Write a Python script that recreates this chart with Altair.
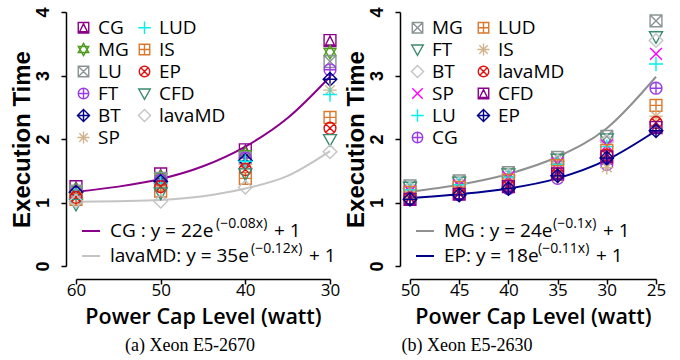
import altair as alt
import pandas as pd

# ---------------- data: left panel (Xeon E5-2670) ----------------
left_caps = [60, 50, 40, 30]
left_names = ["CG", "MG", "LU", "FT", "BT", "SP", "LUD", "IS", "EP", "CFD", "lavaMD"]
left_CG = [1.25, 1.45, 1.83, 3.55]
left_MG = [1.20, 1.40, 1.76, 3.37]
left_LU = [1.18, 1.38, 1.70, 3.22]
left_FT = [1.15, 1.35, 1.70, 3.09]
left_BT = [1.16, 1.33, 1.66, 2.94]
left_SP = [1.10, 1.25, 1.60, 2.77]
left_LUD = [1.12, 1.30, 1.65, 2.70]
left_IS = [1.05, 1.18, 1.38, 2.34]
left_EP = [1.08, 1.25, 1.52, 2.17]
left_CFD = [0.97, 1.15, 1.45, 1.99]
left_lavaMD = [1.02, 1.02, 1.24, 1.80]
left_series = [left_CG, left_MG, left_LU, left_FT, left_BT, left_SP,
               left_LUD, left_IS, left_EP, left_CFD, left_lavaMD]

left_fit_caps = [60, 55, 50, 45, 40, 35, 30]
left_fit_CG = [1.17, 1.25, 1.37, 1.57, 1.88, 2.33, 2.98]
left_fit_lavaMD = [1.01, 1.02, 1.04, 1.10, 1.22, 1.42, 1.81]

# ---------------- data: right panel (Xeon E5-2630) ----------------
right_caps = [50, 45, 40, 35, 30, 25]
right_names = ["MG", "FT", "BT", "SP", "LU", "CG", "LUD", "IS", "lavaMD", "CFD", "EP"]
right_MG = [1.26, 1.34, 1.47, 1.71, 2.04, 3.86]
right_FT = [1.24, 1.32, 1.45, 1.68, 2.00, 3.61]
right_BT = [1.22, 1.30, 1.43, 1.65, 1.97, 3.55]
right_SP = [1.18, 1.27, 1.40, 1.62, 1.90, 3.34]
right_LU = [1.20, 1.28, 1.40, 1.60, 1.88, 3.18]
right_CG = [1.05, 1.12, 1.22, 1.38, 1.60, 2.80]
right_LUD = [1.16, 1.24, 1.35, 1.58, 1.82, 2.53]
right_IS = [1.10, 1.16, 1.25, 1.40, 1.55, 2.36]
right_lavaMD = [1.07, 1.14, 1.26, 1.45, 1.75, 2.26]
right_CFD = [1.05, 1.13, 1.25, 1.45, 1.72, 2.18]
right_EP = [1.05, 1.12, 1.22, 1.42, 1.70, 2.13]
right_series = [right_MG, right_FT, right_BT, right_SP, right_LU, right_CG,
                right_LUD, right_IS, right_lavaMD, right_CFD, right_EP]

right_fit_caps = [50, 45, 40, 35, 30, 25]
right_fit_MG = [1.17, 1.28, 1.45, 1.72, 2.17, 2.98]
right_fit_EP = [1.07, 1.13, 1.22, 1.38, 1.67, 2.13]

y_ticks = [0, 1, 2, 3, 4]

# ---------------- styles ----------------
SQ = "M-1,-1H1V1H-1Z"
CIRC = "M-1,0A1,1 0 1,1 1,0A1,1 0 1,1 -1,0Z"
SHAPES = {
    "sqtri": SQ + "M0,-0.75L0.75,0.75H-0.75Z",
    "hexagram": "M0,-1.15L1,0.58H-1Z M0,1.15L1,-0.58H-1Z",
    "sqx": SQ + "M-1,-1L1,1M-1,1L1,-1",
    "circplus": CIRC + "M-1,0H1M0,-1V1",
    "diamplus": "M0,-1.15L1.15,0L0,1.15L-1.15,0Z M-1.15,0H1.15 M0,-1.15V1.15",
    "aster": "M0,-1.15V1.15M-1.15,0H1.15M-0.8,-0.8L0.8,0.8M-0.8,0.8L0.8,-0.8",
    "plus": "M0,-1.2V1.2M-1.2,0H1.2",
    "sqplus": SQ + "M-1,0H1M0,-1V1",
    "circx": CIRC + "M-0.7,-0.7L0.7,0.7M-0.7,0.7L0.7,-0.7",
    "tridown": "M-1.1,-0.85H1.1L0,1.1Z",
    "diamond": "M0,-1.15L1.15,0L0,1.15L-1.15,0Z",
    "x": "M-1,-1L1,1M-1,1L1,-1",
}

left_style = {
    "CG": ("#8b008b", "sqtri"), "MG": ("#4c9a1e", "hexagram"), "LU": ("#8a9494", "sqx"),
    "FT": ("#9a3be6", "circplus"), "BT": ("#00008b", "diamplus"), "SP": ("#d2b48c", "aster"),
    "LUD": ("#00f0f0", "plus"), "IS": ("#d9782e", "sqplus"), "EP": ("#e01010", "circx"),
    "CFD": ("#3d8b6d", "tridown"), "lavaMD": ("#c4c4c4", "diamond"),
}
right_style = {
    "MG": ("#8a9494", "sqx"), "FT": ("#3d8b6d", "tridown"), "BT": ("#c4c4c4", "diamond"),
    "SP": ("#ff00ff", "x"), "LU": ("#00f0f0", "plus"), "CG": ("#9a3be6", "circplus"),
    "LUD": ("#d9782e", "sqplus"), "IS": ("#d2b48c", "aster"), "lavaMD": ("#e01010", "circx"),
    "CFD": ("#8b008b", "sqtri"), "EP": ("#00008b", "diamplus"),
}

MAIN_FONT = "Open Sans"


def panel(caps, names, series, style, fit_caps, fit_series, fit_colors,
          fit_texts, x_domain, width, caption, caption_dx, leg_colpad):
    rows = []
    for n, vals in zip(names, series):
        for c, v in zip(caps, vals):
            rows.append({"cap": c, "bench": n, "time": v})
    df = pd.DataFrame(rows)

    frows = []
    for (fname, fvals) in fit_series:
        for c, v in zip(fit_caps, fvals):
            frows.append({"cap": c, "fit": fname, "time": v})
    fdf = pd.DataFrame(frows)

    x_enc = alt.X("cap:Q", scale=alt.Scale(domain=x_domain, reverse=True, nice=False, zero=False),
                  axis=alt.Axis(values=caps, title="Power Cap Level (watt)", offset=13,
                                labelFlush=False, labelFont=MAIN_FONT, labelFontSize=17,
                                labelPadding=-2,
                                titleFont=MAIN_FONT, titleFontSize=21.5, titleFontWeight=600,
                                titlePadding=8))
    y_enc = alt.Y("time:Q", scale=alt.Scale(domain=[0, 4], nice=False),
                  axis=alt.Axis(values=y_ticks, title="Execution Time", offset=10,
                                labelAngle=270, labelAlign="center", labelBaseline="bottom",
                                labelFont="Liberation Sans", labelFontSize=18, labelFontWeight="bold",
                                labelPadding=9, labelFlush=False,
                                titleFont="Liberation Sans", titleFontSize=24, titleFontWeight="bold",
                                titlePadding=0))

    legend = alt.Legend(title=None, orient="none", legendX=-2, legendY=6, columns=2,
                        columnPadding=leg_colpad, rowPadding=2, symbolSize=110,
                        symbolStrokeWidth=1.4, labelFont=MAIN_FONT, labelFontSize=19,
                        labelOffset=5, padding=0, labelLimit=200)

    lines = alt.Chart(fdf).mark_line(strokeWidth=2, interpolate="monotone").encode(
        x=x_enc, y=y_enc,
        stroke=alt.Stroke("fit:N", scale=alt.Scale(domain=[f[0] for f in fit_series], range=fit_colors),
                          legend=None),
    )
    points = alt.Chart(df).mark_point(filled=False, strokeWidth=1.4, size=140, opacity=1).encode(
        x=x_enc, y=y_enc,
        color=alt.Color("bench:N", scale=alt.Scale(domain=names, range=[style[n][0] for n in names]),
                        legend=legend),
        shape=alt.Shape("bench:N", scale=alt.Scale(domain=names, range=[SHAPES[style[n][1]] for n in names]),
                        legend=legend),
    )

    layers = [lines, points]
    one = pd.DataFrame({"a": [0]})
    row_y = [219, 244]
    for i, (col, (main, sup, tail, sup_x, tail_x)) in enumerate(zip(fit_colors, fit_texts)):
        layers.append(alt.Chart(one).mark_rule(stroke=col, strokeWidth=2).encode(
            x=alt.value(6), x2=alt.value(24), y=alt.value(row_y[i])))
        layers.append(alt.Chart(one).mark_text(text=main, align="left", baseline="middle",
                                               font=MAIN_FONT, fontSize=19, color="black").encode(
            x=alt.value(34), y=alt.value(row_y[i])))
        layers.append(alt.Chart(one).mark_text(text=sup, align="left", baseline="middle",
                                               font=MAIN_FONT, fontSize=14, color="black").encode(
            x=alt.value(sup_x), y=alt.value(row_y[i] - 7)))
        layers.append(alt.Chart(one).mark_text(text=tail, align="left", baseline="middle",
                                               font=MAIN_FONT, fontSize=19, color="black").encode(
            x=alt.value(tail_x), y=alt.value(row_y[i])))

    return alt.layer(*layers).properties(
        width=width, height=254,
        title=alt.TitleParams(caption, orient="bottom", font="Liberation Serif", fontSize=18,
                              fontWeight="normal", anchor="middle", dx=caption_dx, offset=9),
    )


left = panel(left_caps, left_names, left_series, left_style,
             left_fit_caps, [("CG", left_fit_CG), ("lavaMD", left_fit_lavaMD)],
             ["#8b008b", "#c4c4c4"],
             [("CG : y = 22e", "(\u22120.08x)", "+ 1", 140, 198),
              ("lavaMD: y = 35e", "(\u22120.12x)", "+ 1", 175, 233)],
             [30, 60], 254, "(a) Xeon E5-2670", -13, 6)

right = panel(right_caps, right_names, right_series, right_style,
              right_fit_caps, [("MG", right_fit_MG), ("EP", right_fit_EP)],
              ["#909090", "#00008b"],
              [("MG : y = 24e", "(\u22120.1x)", "+ 1", 143, 193),
               ("EP: y = 18e", "(\u22120.11x)", "+ 1", 128, 186)],
              [25, 50], 246, "(b) Xeon E5-2630", -66, 11)

chart = alt.hconcat(left, right, spacing=4).resolve_scale(
    color="independent", shape="independent", stroke="independent", x="independent", y="independent"
).properties(
    padding={"left": 10, "top": 6, "right": 0, "bottom": 0},
    background="white",
).configure_view(stroke=None).configure_axis(
    grid=False, domainColor="black", domainWidth=1.5, tickColor="black", tickWidth=1.5,
    tickSize=5, labelColor="black", titleColor="black",
)

chart.save("out.html", embed_options={"renderer": "svg", "actions": False})
